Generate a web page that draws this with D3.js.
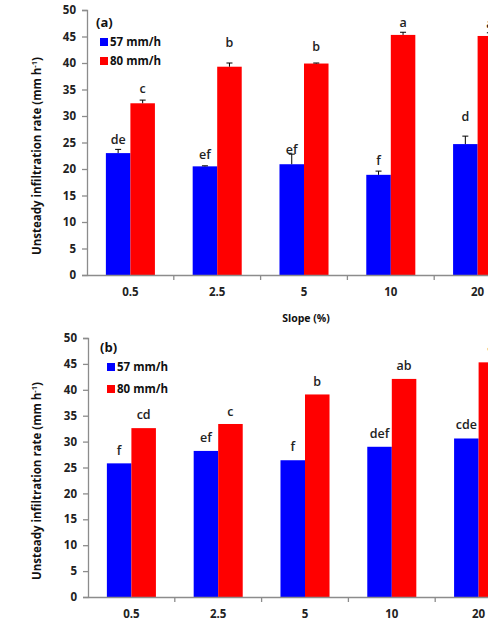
<!DOCTYPE html>
<html><head><meta charset="utf-8">
<script src="https://cdn.jsdelivr.net/npm/d3@7"></script>
<style>
body{margin:0;background:#fff;}
svg{display:block;font-family:"Open Sans",sans-serif;}
</style></head>
<body><div id="chart"></div>
<script>
// ---- data ----
const slopes = ["0.5", "2.5", "5", "10", "20"];
const seriesNames = ["57 mm/h", "80 mm/h"];
const seriesColors = ["#0000ff", "#ff0000"];
const yTicks = [0, 5, 10, 15, 20, 25, 30, 35, 40, 45, 50];

// panel (a)
const aLow = [23.0, 20.5, 20.9, 18.9, 24.7];
const aLowErr = [0.7, 0.1, 1.9, 0.7, 1.5];
const aHigh = [32.4, 39.3, 39.9, 45.3, 45.1];
const aHighErr = [0.6, 0.7, 0.1, 0.5, 0.6];
const aLowLetters = ["de", "ef", "ef", "f", "d"];
const aHighLetters = ["c", "b", "b", "a", "a"];
const aLowLetterAt = [25.5, 22.8, 23.6, 21.5, 29.8];
const aHighLetterAt = [35.1, 43.8, 43.1, 47.6, 47.4];

// panel (b)
const bLow = [25.8, 28.2, 26.4, 29.0, 30.6];
const bHigh = [32.6, 33.4, 39.1, 42.1, 45.3];
const bLowLetters = ["f", "ef", "f", "def", "cde"];
const bHighLetters = ["cd", "c", "b", "ab", "a"];
const bLowLetterAt = [28.2, 30.7, 29.0, 31.5, 33.3];
const bHighLetterAt = [35.2, 35.8, 41.5, 44.7, 48.4];

const W = 488, H = 624;
const svg = d3.select("#chart").append("svg").attr("width", W).attr("height", H);

function panel(cfg) {
  const g = svg.append("g");
  const x = d3.scaleBand().domain(slopes).range([cfg.x0, cfg.x0 + 434]);
  const sub = d3.scaleBand().domain([0, 1]).range([0, x.bandwidth()]).paddingInner(0).paddingOuter(0.77);
  const y = d3.scaleLinear().domain([0, 50]).range([cfg.yBottom, cfg.yTop]);

  const series = [
    {vals: cfg.low, err: cfg.lowErr, letters: cfg.lowLetters, at: cfg.lowAt},
    {vals: cfg.high, err: cfg.highErr, letters: cfg.highLetters, at: cfg.highAt}
  ];

  series.forEach((s, si) => {
    g.selectAll(null).data(slopes).enter().append("rect")
      .attr("x", d => x(d) + sub(si))
      .attr("width", sub.bandwidth())
      .attr("y", (d, i) => y(s.vals[i]))
      .attr("height", (d, i) => y(0) - y(s.vals[i]))
      .attr("fill", seriesColors[si]);
    if (s.err) {
      slopes.forEach((d, i) => {
        const cx = x(d) + sub(si) + sub.bandwidth() / 2;
        const top = y(s.vals[i] + s.err[i]);
        g.append("line").attr("x1", cx).attr("x2", cx).attr("y1", y(s.vals[i])).attr("y2", top)
          .attr("stroke", "#000").attr("stroke-width", 1);
        g.append("line").attr("x1", cx - 3).attr("x2", cx + 3).attr("y1", top).attr("y2", top)
          .attr("stroke", "#000").attr("stroke-width", 1);
      });
    }
    g.selectAll(null).data(slopes).enter().append("text")
      .attr("x", d => x(d) + sub(si) + sub.bandwidth() / 2)
      .attr("y", (d, i) => y(s.at[i]))
      .attr("dy", "0.35em")
      .attr("text-anchor", "middle")
      .attr("font-size", 12.5).attr("font-weight", 600).attr("fill", "#222")
      .text((d, i) => s.letters[i]);
  });

  // y axis
  const ya = g.append("g").attr("transform", `translate(${cfg.x0},0)`)
    .call(d3.axisLeft(y).tickValues(yTicks).tickSize(5).tickPadding(6));
  ya.select(".domain").attr("stroke", "#8c8c8c").attr("stroke-width", 1.3);
  ya.selectAll(".tick line").attr("stroke", "#8c8c8c").attr("stroke-width", 1.3);
  ya.selectAll("text").attr("font-size", 11.5).attr("font-weight", "bold").attr("fill", "#222")
    .attr("font-family", "Open Sans");

  // x axis
  const xa = g.append("g").attr("transform", `translate(0,${cfg.yBottom})`)
    .call(d3.axisBottom(x).tickSize(0).tickPadding(13));
  xa.select(".domain").attr("stroke", "#8c8c8c").attr("stroke-width", 1.3);
  xa.selectAll("text").attr("font-size", 11.5).attr("font-weight", "bold").attr("fill", "#222")
    .attr("font-family", "Open Sans");
  // boundary ticks
  g.selectAll(null).data(slopes.slice(1)).enter().append("line")
    .attr("x1", d => x(d)).attr("x2", d => x(d))
    .attr("y1", cfg.yBottom).attr("y2", cfg.yBottom + 5)
    .attr("stroke", "#8c8c8c").attr("stroke-width", 1.3);

  // y title
  const ty = g.append("text")
    .attr("transform", `translate(${cfg.titleX},${cfg.titleY}) rotate(-90)`)
    .attr("text-anchor", "middle")
    .attr("font-size", 11.5).attr("font-weight", "bold").attr("fill", "#111");
  ty.append("tspan").text(cfg.yTitle);
  ty.append("tspan").attr("font-size", 7.5).attr("dy", -4).text("-1");
  ty.append("tspan").attr("dy", 4).text(")");

  // panel label
  g.append("text").attr("x", cfg.lblX).attr("y", cfg.lblY).attr("font-size", 13)
    .attr("font-weight", "bold").attr("fill", "#111").text(cfg.label);

  // legend
  seriesNames.forEach((n, i) => {
    const ly = cfg.legY + i * cfg.legGap;
    g.append("rect").attr("x", cfg.legX).attr("y", ly - 4).attr("width", 8).attr("height", 8)
      .attr("fill", seriesColors[i]);
    g.append("text").attr("x", cfg.legX + 10).attr("y", ly).attr("dy", "0.35em")
      .attr("font-size", 11.5).attr("font-weight", "bold").attr("fill", "#111").text(n);
  });
  return {x, y};
}

panel({x0: 87, yTop: 10, yBottom: 275,
  low: aLow, lowErr: aLowErr, high: aHigh, highErr: aHighErr,
  lowLetters: aLowLetters, highLetters: aHighLetters, lowAt: aLowLetterAt, highAt: aHighLetterAt,
  yTitle: "Unsteady infiltration rate  (mm h", titleX: 41, titleY: 156,
  label: "(a)", lblX: 96, lblY: 27, legX: 100, legY: 42, legGap: 19});

svg.append("text").attr("x", 306).attr("y", 322).attr("text-anchor", "middle")
  .attr("font-size", 10.5).attr("font-weight", "bold").attr("fill", "#111").text("Slope (%)");

panel({x0: 88, yTop: 338, yBottom: 597,
  low: bLow, lowErr: null, high: bHigh, highErr: null,
  lowLetters: bLowLetters, highLetters: bHighLetters, lowAt: bLowLetterAt, highAt: bHighLetterAt,
  yTitle: "Unsteady infiltration rate (mm h", titleX: 41, titleY: 481,
  label: "(b)", lblX: 100, lblY: 352, legX: 107, legY: 367, legGap: 22});
</script>
</body></html>
